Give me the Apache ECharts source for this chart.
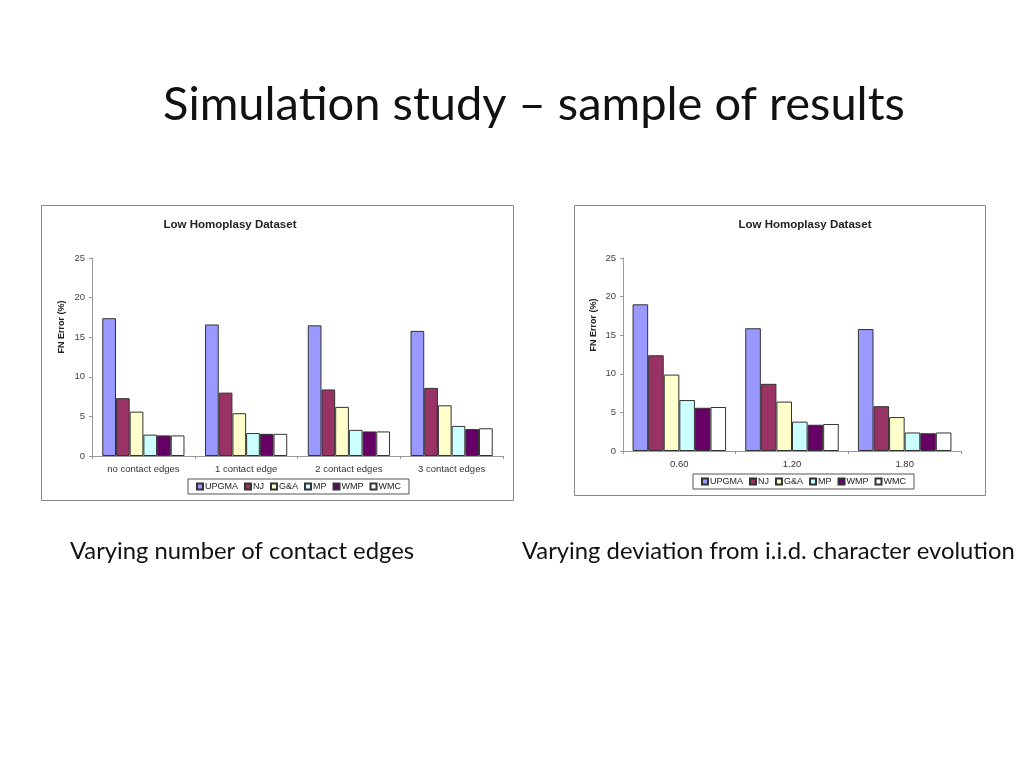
<!DOCTYPE html>
<html><head><meta charset="utf-8">
<script src="https://cdn.jsdelivr.net/npm/echarts@6/dist/echarts.min.js"></script>
<style>html,body{margin:0;padding:0;background:#fff}#c{width:1024px;height:768px}</style>
</head><body><div id="c"></div>
<script>
var methods = ['UPGMA','NJ','G&A','MP','WMP','WMC'];
var colors = ['#9999FF','#993366','#FFFFCC','#CCFFFF','#660066','#FFFFFF'];
var leftCategories = ['no contact edges','1 contact edge','2 contact edges','3 contact edges'];
var leftUPGMA = [17.4, 16.6, 16.5, 15.8];
var leftNJ    = [7.3, 8.0, 8.4, 8.6];
var leftGA    = [5.6, 5.4, 6.2, 6.4];
var leftMP    = [2.7, 2.9, 3.3, 3.8];
var leftWMP   = [2.6, 2.8, 3.1, 3.4];
var leftWMC   = [2.6, 2.8, 3.1, 3.5];
var rightCategories = ['0.60','1.20','1.80'];
var rightUPGMA = [19.0, 15.9, 15.8];
var rightNJ    = [12.4, 8.7, 5.8];
var rightGA    = [9.9, 6.4, 4.4];
var rightMP    = [6.6, 3.8, 2.4];
var rightWMP   = [5.6, 3.4, 2.3];
var rightWMC   = [5.7, 3.5, 2.4];

var leftData = [leftUPGMA, leftNJ, leftGA, leftMP, leftWMP, leftWMC];
var rightData = [rightUPGMA, rightNJ, rightGA, rightMP, rightWMP, rightWMC];

var chart = echarts.init(document.getElementById('c'), null, {renderer:'canvas'});
function yAxis(gi){
  return {type:'value', gridIndex:gi, min:0, max:25, interval:5,
    axisLine:{show:true, lineStyle:{color:'#999'}}, axisTick:{show:true, length:3, lineStyle:{color:'#999'}},
    splitLine:{show:false},
    axisLabel:{fontFamily:'Liberation Sans, Arial', fontSize:9.5, color:'#444', margin:7}};
}
function xAxis(gi, cats){
  return {type:'category', gridIndex:gi, data:cats,
    axisLine:{lineStyle:{color:'#999'}}, axisTick:{show:true, length:3, lineStyle:{color:'#999'}},
    axisLabel:{fontFamily:'Liberation Sans, Arial', fontSize:9.5, color:'#333', margin:8}};
}
var series = [];
methods.forEach(function(m,i){
  series.push({type:'bar', name:m, xAxisIndex:0, yAxisIndex:0, data:leftData[i], barGap:'0%', barCategoryGap:'20%',
    itemStyle:{color:colors[i], borderColor:'#333', borderWidth:1}});
});
methods.forEach(function(m,i){
  series.push({type:'bar', name:m, xAxisIndex:1, yAxisIndex:1, data:rightData[i], barGap:'0%', barCategoryGap:'17%',
    itemStyle:{color:colors[i], borderColor:'#333', borderWidth:1}});
});
function legend(left, top){
  return {left:left, top:top, data:methods, icon:'rect', itemWidth:6, itemHeight:6, itemGap:6,
    borderColor:'#555', borderWidth:1, padding:[3,8,3,8], selectedMode:false,
    textStyle:{fontFamily:'Liberation Sans, Arial', fontSize:9, color:'#222', padding:[0,0,0,-3]}};
}
var nameStyle = {text:'FN Error (%)', fill:'#222', font:'bold 9px "Liberation Sans", Arial', align:'center', verticalAlign:'middle'};
chart.setOption({
  animation:false,
  title:[
    {text:'Simulation study – sample of results', left:529, top:76, textAlign:'center',
     textStyle:{fontFamily:'Lato, Open Sans', fontWeight:'normal', fontSize:47, color:'#111'}},
    {text:'Low Homoplasy Dataset', left:225, top:214, textAlign:'center',
     textStyle:{fontFamily:'Liberation Sans, Arial', fontWeight:'bold', fontSize:11.5, color:'#222'}},
    {text:'Low Homoplasy Dataset', left:800, top:214, textAlign:'center',
     textStyle:{fontFamily:'Liberation Sans, Arial', fontWeight:'bold', fontSize:11.5, color:'#222'}},
    {text:'Varying number of contact edges', left:65, top:534,
     textStyle:{fontFamily:'Lato, Open Sans', fontWeight:'normal', fontSize:23.8, color:'#111'}},
    {text:'Varying deviation from i.i.d. character evolution', left:517, top:534,
     textStyle:{fontFamily:'Lato, Open Sans', fontWeight:'normal', fontSize:23.8, color:'#111'}}
  ],
  graphic:[
    {type:'rect', shape:{x:41.5, y:205.5, width:472, height:295}, style:{fill:'none', stroke:'#888', lineWidth:1}, z:-1},
    {type:'rect', shape:{x:574.5, y:205.5, width:411, height:290}, style:{fill:'none', stroke:'#888', lineWidth:1}, z:-1},
    {type:'text', x:62, y:327, rotation:Math.PI/2, style:nameStyle},
    {type:'text', x:594, y:325, rotation:Math.PI/2, style:nameStyle}
  ],
  legend:[legend(188,479), legend(693,474)],
  grid:[
    {left:92, right:521, top:258, bottom:312},
    {left:623, right:63, top:258, bottom:317}
  ],
  xAxis:[xAxis(0,leftCategories), xAxis(1,rightCategories)],
  yAxis:[yAxis(0), yAxis(1)],
  series:series
});
</script></body></html>
